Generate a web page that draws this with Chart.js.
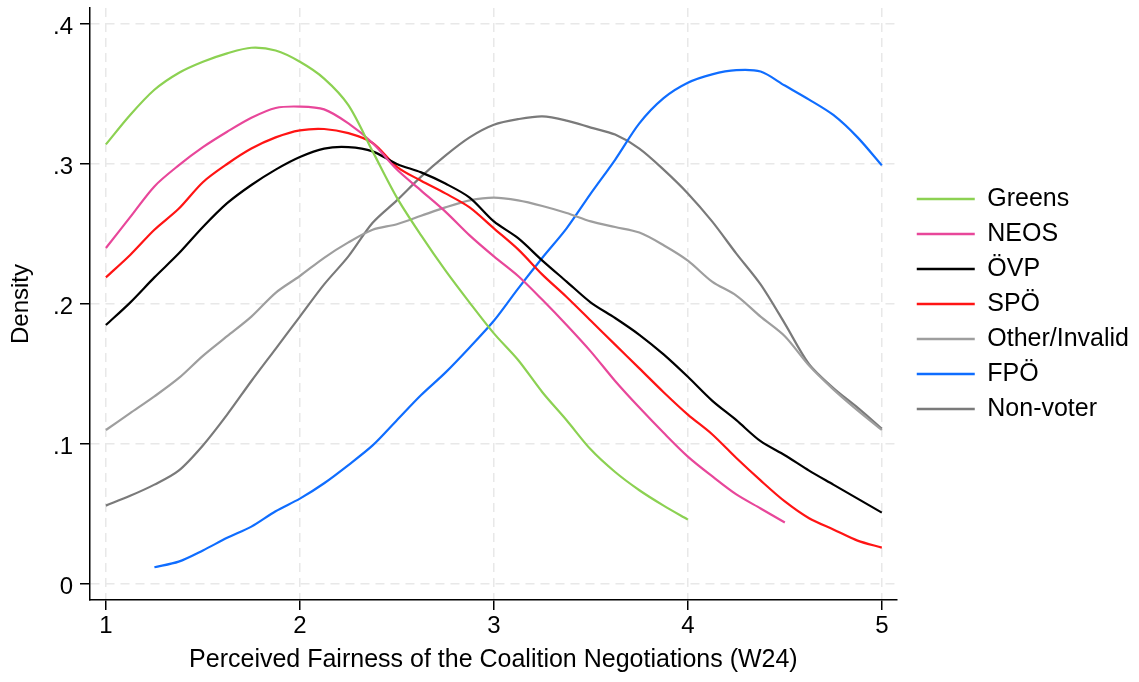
<!DOCTYPE html>
<html>
<head>
<meta charset="utf-8">
<title>Perceived Fairness of the Coalition Negotiations</title>
<script src="https://cdn.jsdelivr.net/npm/chart.js@4.4.1/dist/chart.umd.min.js"></script>
<style>
  body { margin: 0; background: #fff; }
</style>
</head>
<body>
<canvas id="densityChart" width="1139" height="682"></canvas>
<script>
// evaluation grid of the kernel densities (1 = unfair ... 5 = fair)
const xs = [1, 1.125, 1.25, 1.375, 1.5, 1.625, 1.75, 1.875, 2, 2.125, 2.25, 2.375, 2.5, 2.625, 2.75, 2.875,
            3, 3.125, 3.25, 3.375, 3.5, 3.625, 3.75, 3.875, 4, 4.125, 4.25, 4.375, 4.5, 4.625, 4.75, 4.875, 5];

const greens = [.314, .335, .353, .365, .373, .379, .383, .381, .373, .361, .342, .309, .276, .249, .224, .201,
                .179, .160, .137, .117, .096, .080, .067, .056, .046, null, null, null, null, null, null, null, null];
const neos = [.240, .262, .284, .299, .312, .323, .333, .340, .341, .339, .329, .315, .296, .281, .266, .249,
              .234, .220, .203, .185, .166, .145, .126, .108, .091, .077, .064, .054, .044, null, null, null, null];
const ovp = [.185, .201, .219, .236, .255, .272, .285, .296, .305, .311, .312, .309, .300, .294, .286, .276,
             .259, .247, .231, .216, .201, .190, .178, .164, .148, .131, .117, .102, .092, .081, .071, .061, .051];
const spo = [.219, .235, .253, .268, .287, .300, .311, .319, .324, .325, .322, .315, .298, .288, .279, .269,
             .254, .239, .221, .205, .188, .171, .154, .137, .121, .107, .090, .074, .059, .047, .039, .031, .026];
const other = [.110, .122, .134, .147, .163, .177, .191, .208, .220, .233, .244, .253, .257, .263, .269, .274,
               .276, .274, .270, .265, .259, .255, .251, .242, .231, .216, .206, .191, .177, .156, .139, .124, .110];
const fpo = [null, null, .012, .016, .024, .033, .041, .052, .061, .072, .085, .099, .117, .135, .151, .169,
             .188, .211, .233, .254, .279, .303, .329, .347, .358, .364, .367, .366, .356, .346, .335, .319, .299];
const nonVoter = [.056, .063, .071, .081, .099, .121, .145, .168, .191, .214, .234, .258, .274, .291, .306, .319,
                  .328, .332, .334, .331, .326, .321, .311, .296, .279, .259, .236, .214, .186, .157, .140, .126, .111];

const xTicks = [1, 2, 3, 4, 5];
const yTicks = [0, 0.1, 0.2, 0.3, 0.4];

const series = [
  { label: 'Greens', values: greens, color: '#8cd152' },
  { label: 'NEOS', values: neos, color: '#e8479a' },
  { label: 'ÖVP', values: ovp, color: '#000000' },
  { label: 'SPÖ', values: spo, color: '#ff1414' },
  { label: 'Other/Invalid', values: other, color: '#9e9e9e' },
  { label: 'FPÖ', values: fpo, color: '#0f6dff' },
  { label: 'Non-voter', values: nonVoter, color: '#7a7a7a' }
];

Chart.defaults.font.family = "'Liberation Sans', Arial, Helvetica, sans-serif";
Chart.defaults.color = '#000';

// push the legend a little away from the plot region
const legendNudge = {
  id: 'legendNudge',
  afterLayout(chart) {
    chart.legend.left += 10;
    chart.legend.right += 10;
  }
};

const gridStyle = {
  color: '#e8e8e8',
  lineWidth: 1.5,
  tickLength: 10,
  tickColor: '#000',
  tickWidth: 1.5,
  tickBorderDash: []
};

const ctx = document.getElementById('densityChart').getContext('2d');

new Chart(ctx, {
  type: 'line',
  data: {
    datasets: series.map(s => ({
      label: s.label,
      data: xs.map((x, i) => ({ x, y: s.values[i] })),
      borderColor: s.color,
      backgroundColor: s.color,
      borderWidth: 2.2,
      pointRadius: 0,
      tension: 0.3,
      fill: false
    }))
  },
  options: {
    responsive: false,
    animation: false,
    events: [],
    layout: { padding: { top: 8, right: 10, left: 0, bottom: 0 } },
    plugins: {
      tooltip: { enabled: false },
      legend: {
        position: 'right',
        align: 'center',
        fullSize: false,
        labels: {
          boxWidth: 58,
          boxHeight: 2.5,
          padding: 10,
          color: '#000',
          font: { size: 25 },
          generateLabels: chart => Chart.defaults.plugins.legend.labels.generateLabels(chart)
            .map(item => Object.assign(item, { lineWidth: 0, fillStyle: item.strokeStyle }))
        }
      }
    },
    scales: {
      x: {
        type: 'linear',
        min: 0.918,
        max: 5.077,
        afterBuildTicks: scale => { scale.ticks = xTicks.map(v => ({ value: v })); },
        afterFit: scale => { scale.height = 82; },
        grid: gridStyle,
        border: { color: '#000', width: 1.5, dash: [9, 6] },
        ticks: { font: { size: 24 }, padding: 2, maxRotation: 0, color: '#000' },
        title: {
          display: true,
          text: 'Perceived Fairness of the Coalition Negotiations (W24)',
          font: { size: 25 },
          color: '#000',
          padding: { top: 0, bottom: 7 }
        }
      },
      y: {
        min: -0.0114,
        max: 0.4114,
        afterBuildTicks: scale => { scale.ticks = yTicks.map(v => ({ value: v })); },
        afterFit: scale => {
          scale.width = 90;
          scale.paddingTop = 0;
          scale.paddingBottom = 0;
        },
        grid: gridStyle,
        border: { color: '#000', width: 1.5, dash: [9, 6] },
        ticks: {
          font: { size: 24 },
          padding: 7,
          labelOffset: 3,
          color: '#000',
          callback: v => v === 0 ? '0' : v.toFixed(1).replace(/^0/, '')
        },
        title: {
          display: true,
          text: 'Density',
          font: { size: 24 },
          color: '#000',
          padding: { top: 7, bottom: 0 }
        }
      }
    }
  },
  plugins: [legendNudge]
});
</script>
</body>
</html>
